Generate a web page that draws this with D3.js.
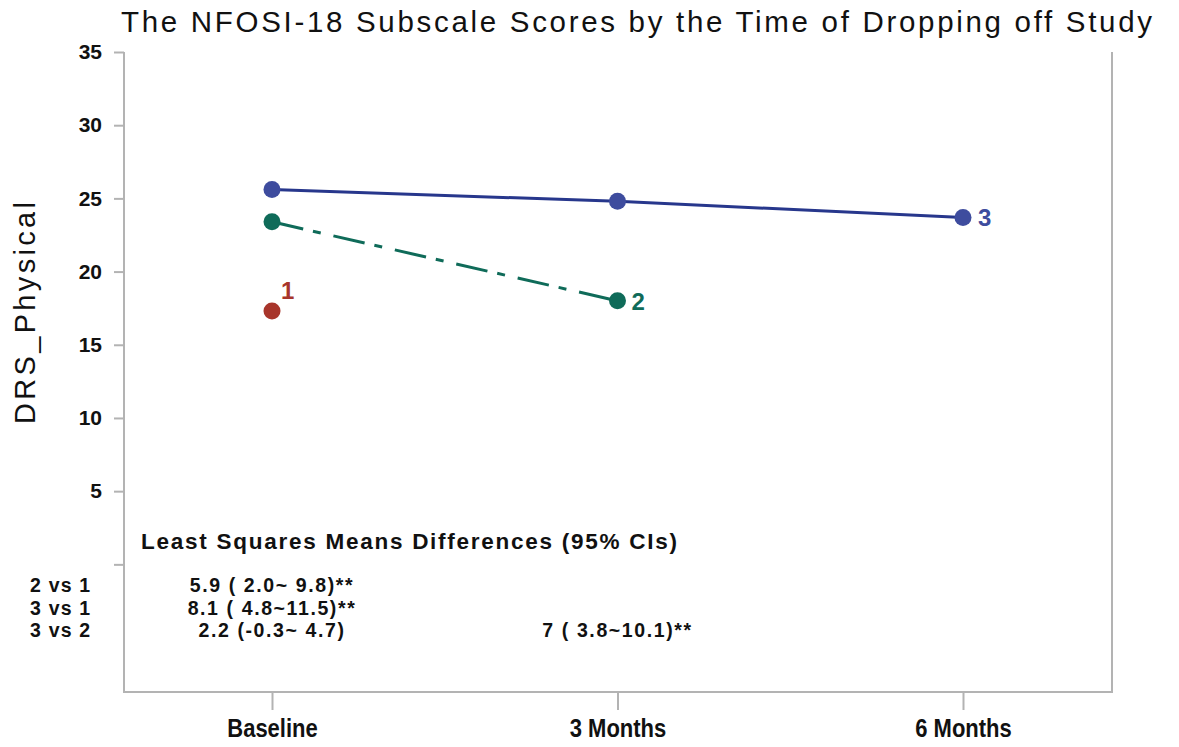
<!DOCTYPE html>
<html>
<head>
<meta charset="utf-8">
<script src="https://cdn.jsdelivr.net/npm/d3@7"></script>
<style>
  html, body { margin: 0; padding: 0; background: #fff; }
  svg { display: block; }
</style>
</head>
<body>
<script>
// Visit categories on the x axis
const visits = ["Baseline", "3 Months", "6 Months"];

// Subscale means by dropout group (group = last visit completed)
const group1 = [17.3];
const group2 = [23.4, 18.0];
const group3 = [25.6, 24.8, 23.7];

const groupNames = ["1", "2", "3"];
const groupColors = ["#a8352b", "#0f6b59", "#3e4c9e"];
const lineColors = ["#a8352b", "#0f6b59", "#27378c"];

// Y axis tick labels
const yTicks = [5, 10, 15, 20, 25, 30, 35];

// Least squares means differences table
const lsHeader = "Least Squares Means Differences (95% CIs)";
const lsRows = ["2 vs 1", "3 vs 1", "3 vs 2"];
const lsBaseline = ["5.9 ( 2.0~ 9.8)**", "8.1 ( 4.8~11.5)**", "2.2 (-0.3~ 4.7)"];
const ls3Months = ["", "", "7 ( 3.8~10.1)**"];

const W = 1179, H = 747;
const svg = d3.select("body").append("svg").attr("width", W).attr("height", H);

const plotLeft = 124, plotRight = 1112, plotTop = 52, plotBottom = 692;
const sans = "Liberation Sans, Arial, sans-serif";

const x = d3.scalePoint().domain(visits).range([272, 963]);
const y = d3.scaleLinear().domain([-8.72, 35]).range([plotBottom, plotTop]);

// Title
svg.append("text")
  .attr("x", 121).attr("y", 32)
  .attr("font-family", sans)
  .attr("font-size", 29.5)
  .attr("textLength", 1031)
  .attr("lengthAdjust", "spacing")
  .attr("fill", "#111")
  .text("The NFOSI-18 Subscale Scores by the Time of Dropping off Study");

// Y axis title
svg.append("text")
  .attr("transform", `translate(35,${313}) rotate(-90)`)
  .attr("text-anchor", "middle")
  .attr("font-family", sans)
  .attr("font-size", 29)
  .attr("textLength", 222)
  .attr("lengthAdjust", "spacing")
  .attr("fill", "#111")
  .text("DRS_Physical");

// Frame: left, bottom, right (open top)
const frameColor = "#b3b3b3";
svg.append("path")
  .attr("d", `M${plotLeft},${plotTop}V${plotBottom}H${plotRight}V${plotTop}`)
  .attr("fill", "none").attr("stroke", frameColor).attr("stroke-width", 2);

// Y axis
const yAxis = d3.axisLeft(y).tickValues([0].concat(yTicks)).tickSize(10).tickPadding(12)
  .tickFormat(d => d === 0 ? "" : d);
const gy = svg.append("g").attr("transform", `translate(${plotLeft},0)`).call(yAxis);
gy.select(".domain").remove();
gy.selectAll(".tick line").attr("stroke", frameColor).attr("stroke-width", 2);
gy.selectAll(".tick text")
  .attr("font-weight", "bold")
  .attr("font-size", 21)
  .attr("fill", "#111")
  .attr("font-family", sans);

// X axis
const xAxis = d3.axisBottom(x).tickSize(18).tickPadding(9);
const gx = svg.append("g").attr("transform", `translate(0,${plotBottom})`).call(xAxis);
gx.select(".domain").remove();
gx.selectAll(".tick line").attr("stroke", frameColor).attr("stroke-width", 2);
gx.selectAll(".tick text")
  .attr("font-family", sans)
  .attr("font-weight", "bold")
  .attr("font-size", 25)
  .attr("transform", "scale(0.88,1)")
  .attr("fill", "#111");

// Series
const series = [group1, group2, group3].map((vals, i) => ({
  name: groupNames[i],
  color: groupColors[i],
  lineColor: lineColors[i],
  points: vals.map((v, j) => ({ visit: visits[j], value: v }))
}));

const line = d3.line().x(d => x(d.visit)).y(d => y(d.value));
const dashes = [null, "32,10,8,13", null];

series.forEach((s, i) => {
  if (s.points.length > 1) {
    svg.append("path")
      .datum(s.points)
      .attr("d", line)
      .attr("fill", "none")
      .attr("stroke", s.lineColor)
      .attr("stroke-width", 3)
      .attr("stroke-dasharray", dashes[i]);
  }
});

series.forEach(s => {
  svg.selectAll(null).data(s.points).enter().append("circle")
    .attr("cx", d => x(d.visit)).attr("cy", d => y(d.value))
    .attr("r", 8.5).attr("fill", s.color);
});

// Group labels near the last point of each series
const labelOffsets = [[9, -12], [14, 9], [15, 9]];
series.forEach((s, i) => {
  const last = s.points[s.points.length - 1];
  svg.append("text")
    .attr("x", x(last.visit) + labelOffsets[i][0])
    .attr("y", y(last.value) + labelOffsets[i][1])
    .attr("font-family", sans)
    .attr("font-weight", "bold")
    .attr("font-size", 24)
    .attr("fill", s.color)
    .text(s.name);
});

// LS means differences table
svg.append("text")
  .attr("x", 141).attr("y", 549)
  .attr("font-family", sans)
  .attr("font-weight", "bold")
  .attr("font-size", 22.5)
  .attr("textLength", 536)
  .attr("lengthAdjust", "spacing")
  .attr("fill", "#111")
  .text(lsHeader);

const rowY = [592, 614.5, 637];
const cellFont = 19.5;
lsRows.forEach((r, i) => {
  svg.append("text")
    .attr("x", 30).attr("y", rowY[i])
    .attr("font-family", sans).attr("font-weight", "bold")
    .attr("letter-spacing", 1.2)
    .attr("font-size", cellFont).attr("fill", "#111").text(r);
  svg.append("text")
    .attr("x", x(visits[0])).attr("y", rowY[i])
    .attr("text-anchor", "middle")
    .attr("font-family", sans).attr("font-weight", "bold")
    .attr("letter-spacing", 1.6)
    .attr("font-size", cellFont).attr("fill", "#111").text(lsBaseline[i]);
  if (ls3Months[i]) {
    svg.append("text")
      .attr("x", x(visits[1])).attr("y", rowY[i])
      .attr("text-anchor", "middle")
      .attr("font-family", sans).attr("font-weight", "bold")
      .attr("letter-spacing", 1.6)
      .attr("font-size", cellFont).attr("fill", "#111").text(ls3Months[i]);
  }
});
</script>
</body>
</html>
